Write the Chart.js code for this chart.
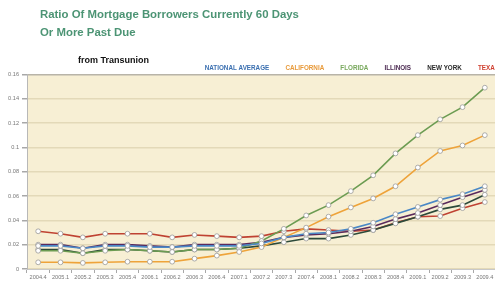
<!DOCTYPE html>
<html>
<head>
<meta charset="utf-8">
<script src="https://cdn.jsdelivr.net/npm/chart.js@4"></script>
<style>
  html, body { margin: 0; padding: 0; background: #fff; overflow: hidden; }
  #wrap { position: relative; width: 495px; height: 284px; overflow: hidden; }
  #title {
    position: absolute; left: 40px; top: 5px;
    font: bold 11.4px "Liberation Sans", Arial, sans-serif;
    line-height: 18px; color: #4c9474;
  }
  #source {
    position: absolute; left: 78px; top: 55px;
    font: bold 9px "Liberation Sans", Arial, sans-serif;
    color: #111;
  }
  canvas { position: absolute; left: 0; top: 0; }
</style>
</head>
<body>
<div id="wrap">
  <canvas id="myChart" width="512" height="284"></canvas>
  <div id="title">Ratio Of Mortgage Borrowers Currently 60 Days<br>Or More Past Due</div>
  <div id="source">from Transunion</div>
</div>
<script>
const quarters = ["2004.4","2005.1","2005.2","2005.3","2005.4","2006.1","2006.2","2006.3","2006.4","2007.1",
  "2007.2","2007.3","2007.4","2008.1","2008.2","2008.3","2008.4","2009.1","2009.2","2009.3","2009.4"];

const nationalAverage = [0.019,0.019,0.017,0.019,0.019,0.018,0.018,0.019,0.019,0.019,0.021,0.026,0.029,0.030,0.033,0.038,0.045,0.051,0.057,0.0615,0.068];
const california = [0.0055,0.0055,0.005,0.0055,0.006,0.006,0.006,0.0085,0.011,0.014,0.018,0.026,0.034,0.043,0.0506,0.058,0.068,0.0834,0.097,0.1015,0.110];
const florida = [0.015,0.015,0.013,0.015,0.016,0.015,0.014,0.016,0.016,0.017,0.023,0.033,0.044,0.0525,0.064,0.077,0.095,0.110,0.123,0.133,0.149];
const illinois = [0.020,0.020,0.017,0.020,0.020,0.019,0.018,0.020,0.020,0.020,0.022,0.026,0.028,0.029,0.031,0.035,0.041,0.046,0.0525,0.059,0.065];
const newYork = [0.016,0.016,0.013,0.016,0.016,0.015,0.014,0.016,0.016,0.017,0.019,0.022,0.025,0.025,0.028,0.032,0.0375,0.043,0.049,0.0525,0.061];
const texas = [0.031,0.029,0.026,0.029,0.029,0.029,0.026,0.028,0.027,0.026,0.027,0.031,0.033,0.032,0.031,0.032,0.038,0.043,0.0435,0.050,0.055];

const seriesNames = ["NATIONAL AVERAGE","CALIFORNIA","FLORIDA","ILLINOIS","NEW YORK","TEXAS"];
const lineColors = ["#4a88c6","#eea33a","#6c9c52","#5a2a5c","#2c4a3a","#bf4232"];
const legendColors = ["#3a6fb0","#e89a3a","#78a85c","#4a2850","#2a2a2a","#d04030"];

const plotBg = {
  id: "plotBg",
  beforeDraw(chart) {
    const a = chart.chartArea, c = chart.ctx;
    c.save();
    c.fillStyle = "#f7efd4";
    c.fillRect(a.left, a.top, a.right - a.left, a.bottom - a.top);
    c.restore();
  }
};

// legend keeps its wide horizontal spacing but sits closer to the plot
const tightLegend = {
  id: "tightLegend",
  beforeLayout(chart) {
    const lg = chart.legend;
    if (lg && !lg._tight) {
      const fit = lg.fit.bind(lg);
      lg.fit = function() { fit(); this.height -= 7; };
      lg._tight = true;
    }
  }
};

function makeSet(i, values) {
  return {
    label: seriesNames[i],
    data: values,
    borderColor: lineColors[i],
    backgroundColor: lineColors[i],
    borderWidth: 1.6,
    tension: 0,
    pointRadius: 2.4,
    pointBackgroundColor: "#ffffff",
    pointBorderColor: "#9a9a9a",
    pointBorderWidth: 0.8,
    yAxisID: "y"
  };
}

let ctx = document.getElementById("myChart").getContext("2d");
let mortgageChart = new Chart(ctx, {
  type: "line",
  data: {
    labels: quarters,
    datasets: [
      makeSet(0, nationalAverage),
      makeSet(1, california),
      makeSet(2, florida),
      makeSet(3, illinois),
      makeSet(4, newYork),
      makeSet(5, texas)
    ]
  },
  options: {
    responsive: false,
    animation: false,
    layout: { padding: { top: 52, left: 0, right: 0, bottom: 0 } },
    plugins: {
      title: { display: false },
      tooltip: { enabled: false },
      legend: {
        display: true,
        position: "top",
        align: "end",
        labels: {
          boxWidth: 0,
          boxHeight: 0,
          padding: 13,
          font: { family: "'Liberation Sans Narrow', 'Liberation Sans', sans-serif", size: 6.3, weight: "bold" },
          generateLabels: function(chart) {
            return chart.data.datasets.map(function(ds, i) {
              return {
                text: ds.label,
                fontColor: legendColors[i],
                fillStyle: "transparent",
                strokeStyle: "transparent",
                lineWidth: 0,
                hidden: false,
                datasetIndex: i
              };
            });
          }
        }
      }
    },
    scales: {
      x: {
        type: "category",
        offset: true,
        grid: {
          display: true,
          drawOnChartArea: false,
          offset: true,
          tickLength: 4,
          tickColor: "#a8a8a8"
        },
        border: { display: true, color: "#c8c8c8" },
        ticks: {
          autoSkip: false,
          maxRotation: 0,
          padding: 1,
          color: "#777",
          font: { family: "'Liberation Sans', sans-serif", size: 5.6 }
        },
        afterFit: function(scale) { scale.height = 15; }
      },
      y: {
        min: 0,
        max: 0.16,
        ticks: {
          stepSize: 0.02,
          padding: 3,
          color: "#777",
          font: { family: "'Liberation Sans', sans-serif", size: 5.6 },
          callback: function(value) {
            return String(+value.toFixed(2));
          }
        },
        grid: {
          tickLength: 5,
          lineWidth: 1.5,
          color: function(c) {
            return c.tick && c.tick.value >= 0.16 ? "#b8b4a8" : "#e3d9b8";
          },
          tickColor: "#a8a8a8"
        },
        border: { display: true, color: "#b8b8b8" },
        afterFit: function(scale) { scale.width = 27; }
      },
      yPad: {
        position: "right",
        display: true,
        min: 0,
        max: 0.16,
        ticks: { display: false },
        grid: { display: false },
        border: { display: false },
        afterFit: function(scale) { scale.width = 16; }
      }
    }
  },
  plugins: [plotBg, tightLegend]
});
</script>
</body>
</html>
